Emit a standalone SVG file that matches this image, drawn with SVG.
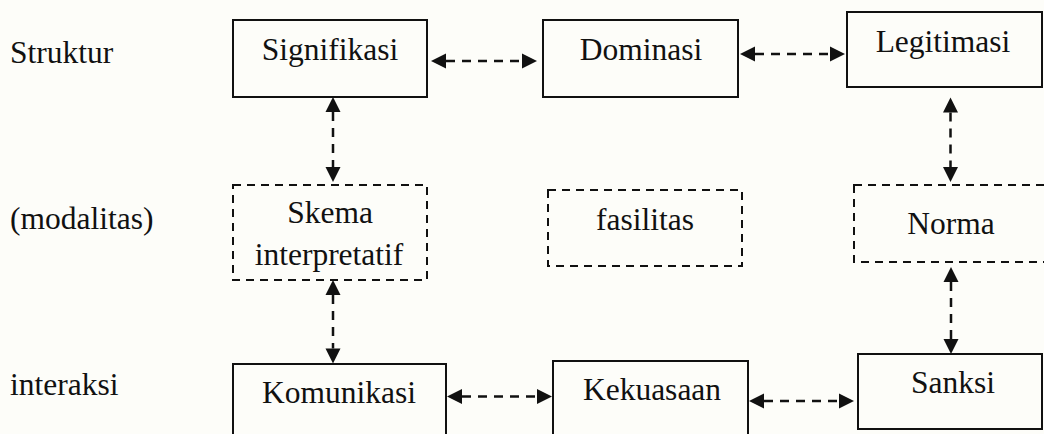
<svg xmlns="http://www.w3.org/2000/svg" width="1044" height="434" viewBox="0 0 1044 434">
  <style>
    .bg { fill: #fdfdf9; }
    .box { fill: none; stroke: #111; stroke-width: 2; }
    .dbox { fill: none; stroke: #111; stroke-width: 2; stroke-dasharray: 8 6; }
    .lbl { font-family: "Liberation Serif", "Times New Roman", serif; font-size: 31.5px; fill: #111; }
    .c { text-anchor: middle; }
    .conn { fill: none; stroke: #111; stroke-width: 2.5; stroke-dasharray: 9 7; marker-start: url(#ah); marker-end: url(#ah); }
  </style>
  <defs>
    <marker id="ah" markerUnits="userSpaceOnUse" markerWidth="16" markerHeight="16" refX="0" refY="7.5" orient="auto-start-reverse" viewBox="0 0 16 16" overflow="visible">
      <path d="M0,0 L15,7.5 L0,15 Z" fill="#111"/>
    </marker>
  </defs>
  <rect class="bg" x="0" y="0" width="1044" height="434"/>

  <g id="row-labels">
    <text class="lbl" x="10" y="63">Struktur</text>
    <text class="lbl" x="10" y="229">(modalitas)</text>
    <text class="lbl" x="10" y="395">interaksi</text>
  </g>

  <g id="node-signifikasi">
    <rect class="box" x="233" y="20" width="194" height="77"/>
    <text class="lbl c" x="330" y="60">Signifikasi</text>
  </g>
  <g id="node-dominasi">
    <rect class="box" x="543" y="20" width="195" height="77"/>
    <text class="lbl c" x="641" y="60">Dominasi</text>
  </g>
  <g id="node-legitimasi">
    <rect class="box" x="847" y="12" width="195" height="75"/>
    <text class="lbl c" x="943" y="52">Legitimasi</text>
  </g>

  <g id="node-skema">
    <rect class="dbox" x="233" y="185" width="194" height="95"/>
    <text class="lbl c" x="330" y="223">Skema</text>
    <text class="lbl c" x="329" y="265">interpretatif</text>
  </g>
  <g id="node-fasilitas">
    <rect class="dbox" x="548" y="190" width="194" height="76"/>
    <text class="lbl c" x="645" y="230">fasilitas</text>
  </g>
  <g id="node-norma">
    <rect class="dbox" x="854" y="185" width="200" height="77"/>
    <text class="lbl c" x="951" y="234">Norma</text>
  </g>

  <g id="node-komunikasi">
    <rect class="box" x="233" y="364" width="213" height="80"/>
    <text class="lbl c" x="339" y="403">Komunikasi</text>
  </g>
  <g id="node-kekuasaan">
    <rect class="box" x="553" y="361" width="195" height="83"/>
    <text class="lbl c" x="652" y="400">Kekuasaan</text>
  </g>
  <g id="node-sanksi">
    <rect class="box" x="858" y="354" width="184" height="75"/>
    <text class="lbl c" x="953" y="393">Sanksi</text>
  </g>

  <g id="connectors">
    <path class="conn" d="M446,61 L522,61"/>
    <path class="conn" d="M755,54 L830,54"/>
    <path class="conn" d="M462,396.5 L537,396.5"/>
    <path class="conn" d="M764,401 L839,401"/>
    <path class="conn" d="M333,112 L333,167"/>
    <path class="conn" d="M950.5,112.5 L950.5,167"/>
    <path class="conn" d="M333,295 L333,348.5"/>
    <path class="conn" d="M951,282 L951,339"/>
  </g>
</svg>
